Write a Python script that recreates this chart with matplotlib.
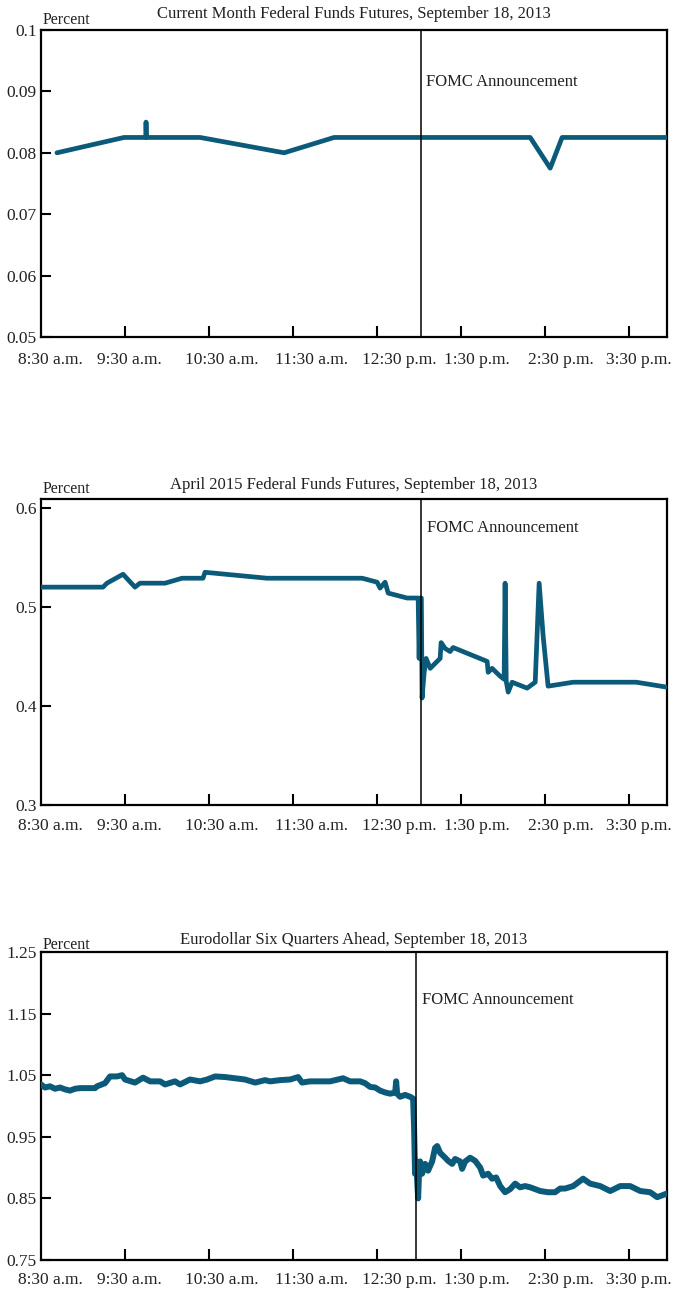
import matplotlib
matplotlib.use("Agg")
import matplotlib.pyplot as plt
from matplotlib.ticker import FixedLocator

# ---- data (time = minutes after 8:30 a.m.) ----
hour_labels = ["8:30 a.m.", "9:30 a.m.", "10:30 a.m.", "11:30 a.m.",
               "12:30 p.m.", "1:30 p.m.", "2:30 p.m.", "3:30 p.m."]
hour_ticks = [60, 120, 180, 240, 300, 360, 420]

titles = ["Current Month Federal Funds Futures, September 18, 2013",
          "April 2015 Federal Funds Futures, September 18, 2013",
          "Eurodollar Six Quarters Ahead, September 18, 2013"]

fomc_time = [271, 271.4, 267.9]

t1 = [11.4, 59.3, 74.8, 75.0, 75.3, 113.6, 173.6, 209.3, 349.3, 363.6, 372.1, 447]
v1 = [0.080, 0.0825, 0.0825, 0.085, 0.0825, 0.0825, 0.080, 0.0825, 0.0825, 0.0775, 0.0825, 0.0825]

t2 = [0, 44.3, 47.1, 58.6, 67.1, 70.7, 88.6, 100.7, 115.7, 117.1, 161.4, 229.3,
      240, 242.1, 245.7, 247.9, 261.4, 269.3, 270.0, 270.7, 271.6, 272.1, 273.6,
      275.0, 277.9, 285.0, 285.7, 288.6, 292.1, 294.3, 318.6, 319.3, 322.1, 327.9,
      330.7, 331.4, 332.2, 333.6, 336.4, 347.1, 352.9, 355.7, 358.6, 362.1, 380,
      425, 447]
v2 = [0.520, 0.520, 0.524, 0.533, 0.520, 0.524, 0.524, 0.529, 0.529, 0.535, 0.529, 0.529,
      0.525, 0.519, 0.525, 0.514, 0.509, 0.509, 0.448, 0.509, 0.509, 0.408, 0.434,
      0.448, 0.438, 0.448, 0.464, 0.458, 0.455, 0.459, 0.445, 0.434, 0.438, 0.430,
      0.427, 0.524, 0.425, 0.414, 0.424, 0.418, 0.424, 0.524, 0.470, 0.420, 0.424,
      0.424, 0.419]

t3 = [0, 2.9, 6.4, 10, 13.6, 17.1, 20.7, 24.3, 27.9, 38.6, 40, 45.7, 49.3, 54.3,
      57.9, 60, 67.1, 72.9, 77.9, 85, 88.6, 95.7, 99.3, 106.4, 113.6, 118.6, 124.3,
      131.4, 138.6, 145.7, 152.9, 160, 163.6, 170.7, 177.9, 183.6, 186.4, 192.1,
      199.3, 206.4, 215.7, 220.7, 227.9, 231.4, 235, 238.6, 242.1, 245.7, 249.3,
      252.9, 253.6, 254.3, 256.4, 260, 263.6, 265.7, 266.4, 267.1, 267.9, 269.3,
      270, 270.7, 272.1, 274.3, 276.4, 279.3, 281.4, 282.9, 285, 288.6, 290.7,
      293.6, 295.7, 299.3, 300.7, 302.9, 306.4, 310, 313.6, 315.7, 319.3, 322.1,
      325, 327.9, 331.4, 335, 338.6, 342.1, 345.7, 349.3, 352.9, 356.4, 362.1,
      367.1, 370.7, 374.3, 380, 387.1, 392.1, 399.3, 406.4, 413.6, 420.7, 427.9,
      435, 440, 443.6, 447]
v3 = [1.035, 1.030, 1.032, 1.028, 1.030, 1.027, 1.025, 1.028, 1.029, 1.029, 1.032,
      1.037, 1.048, 1.048, 1.050, 1.043, 1.038, 1.046, 1.040, 1.040, 1.035, 1.040,
      1.035, 1.043, 1.040, 1.043, 1.048, 1.047, 1.045, 1.043, 1.038, 1.042, 1.040,
      1.042, 1.043, 1.047, 1.038, 1.040, 1.040, 1.040, 1.045, 1.040, 1.040, 1.037,
      1.031, 1.030, 1.025, 1.022, 1.020, 1.022, 1.040, 1.020, 1.015, 1.018, 1.015,
      1.012, 0.965, 0.890, 0.910, 0.850, 0.895, 0.910, 0.890, 0.906, 0.895, 0.910,
      0.932, 0.935, 0.924, 0.916, 0.911, 0.906, 0.914, 0.910, 0.898, 0.910, 0.916,
      0.911, 0.900, 0.887, 0.890, 0.882, 0.884, 0.870, 0.860, 0.865, 0.874, 0.868,
      0.870, 0.868, 0.865, 0.862, 0.860, 0.860, 0.866, 0.866, 0.870, 0.882, 0.874,
      0.870, 0.862, 0.870, 0.870, 0.862, 0.860, 0.852, 0.855, 0.858]

ylims = [(0.05, 0.1), (0.3, 0.609), (0.75, 1.25)]
yticks = [[0.05, 0.06, 0.07, 0.08, 0.09, 0.1],
          [0.3, 0.4, 0.5, 0.6],
          [0.75, 0.85, 0.95, 1.05, 1.15, 1.25]]
ytick_labels = [["0.05", "0.06", "0.07", "0.08", "0.09", "0.1"],
                ["0.3", "0.4", "0.5", "0.6"],
                ["0.75", "0.85", "0.95", "1.05", "1.15", "1.25"]]

series = [(t1, v1), (t2, v2), (t3, v3)]

# ---- layout ----
W, H = 678, 1291
plt.rcParams['font.family'] = ['Liberation Serif', 'DejaVu Serif']
fig = plt.figure(figsize=(W / 100, H / 100), dpi=100)

boxes = [(41, 30, 667, 337), (41, 499, 667, 805), (41, 952, 667, 1260)]
label_centers = [7, 63, 129, 193, 256, 311, 371, 427]
title_gap = [16, 14, 12]
pct_gap = [10, 10, 7]
xlab_gap = [23, 21, 20]
fomc_y = [52, 29, 48]
line_w = [3.4, 3.4, 4.3]

color = '#0b5a7a'

for i, ax_box in enumerate(boxes):
    l, t, r, b = ax_box
    ax = fig.add_axes([l / W, 1 - b / H, (r - l) / W, (b - t) / H])
    tt, vv = series[i]
    ax.plot(tt, vv, color=color, lw=line_w[i], solid_joinstyle='round',
            solid_capstyle='round', zorder=3)
    ax.axvline(fomc_time[i], color='black', lw=1.1, zorder=4)
    ax.set_xlim(0, 447)
    ax.set_ylim(*ylims[i])
    ax.set_yticks(yticks[i])
    ax.set_yticklabels(ytick_labels[i], fontsize=12.5, color='#222222')
    ax.xaxis.set_major_locator(FixedLocator(hour_ticks))
    ax.set_xticklabels([])
    ax.tick_params(axis='y', direction='in', length=7.5, width=1.5, pad=3,
                   left=True, right=False)
    ax.tick_params(axis='x', direction='in', length=8, width=1.5,
                   bottom=True, top=False)
    for s in ax.spines.values():
        s.set_linewidth(1.6)
        s.set_color('black')
    # time labels
    for lab, pos in zip(hour_labels, label_centers):
        ax.annotate(lab, xy=(pos, 0), xycoords=('data', 'axes fraction'),
                    xytext=(0, -xlab_gap[i] * 0.72), textcoords='offset points',
                    ha='center', va='center', fontsize=12.5, color='#222222')
    ax.annotate(titles[i], xy=(0.5, 1), xycoords='axes fraction',
                xytext=(0, title_gap[i] * 0.72), textcoords='offset points',
                ha='center', va='center', fontsize=12, color='#222222')
    ax.annotate("Percent", xy=(0, 1), xycoords='axes fraction',
                xytext=(1, pct_gap[i] * 0.72), textcoords='offset points',
                ha='left', va='center', fontsize=11.5, color='#222222')
    ax.annotate("FOMC Announcement", xy=(fomc_time[i], 1),
                xycoords=('data', 'axes fraction'),
                xytext=(4, -fomc_y[i] * 0.72), textcoords='offset points',
                ha='left', va='center', fontsize=12, color='#222222')

fig.savefig("out.png", dpi=100)
